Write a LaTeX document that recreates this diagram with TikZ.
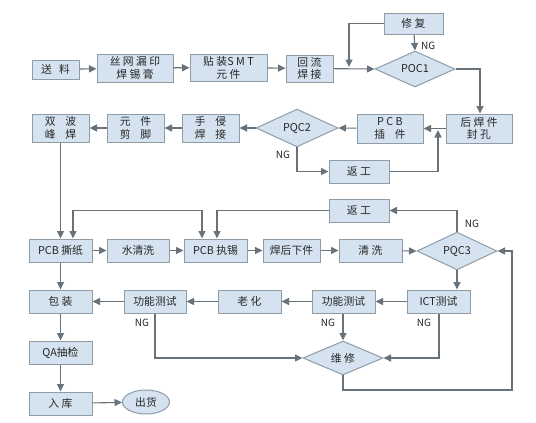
\documentclass[tikz,border=0pt]{standalone}
\usepackage{fontspec}
\setmainfont{Noto Sans CJK SC}
\usetikzlibrary{shapes.geometric,arrows.meta}
\definecolor{boxfill}{HTML}{D4E3EF}
\definecolor{boxline}{HTML}{8F9BA5}
\definecolor{conn}{HTML}{68727A}
\begin{document}
\begin{tikzpicture}[x=1pt,y=-1pt,
  box/.style={draw=boxline,fill=boxfill,line width=1pt,inner sep=0pt,align=center,
    font=\fontsize{10.8}{12.8}\selectfont,text=black!85},
  dia/.style={draw=boxline,fill=boxfill,line width=1pt,shape=diamond,inner sep=0pt,
    minimum width=80pt,minimum height=32pt,font=\fontsize{10.8}{12.8}\selectfont,text=black!85},
  ell/.style={draw=boxline,fill=boxfill,line width=1pt,shape=ellipse,inner sep=0pt,
    minimum width=47pt,minimum height=24pt,font=\fontsize{10.8}{12.8}\selectfont,text=black!85},
  tip/.tip={Triangle[length=7.5pt,width=7pt]},
  arr/.style={draw=conn,line width=1.1pt,-tip},
  arr2/.style={draw=conn,line width=1.1pt,tip-tip},
  nglab/.style={font=\fontsize{10}{11}\selectfont,text=black!85,inner sep=0pt}]
\useasboundingbox (0,0) rectangle (536,423);
% row 1
\node[box,minimum width=47pt,minimum height=19pt] (songliao) at (55.5,69.5) {送\ \ \ 料};
\node[box,minimum width=76pt,minimum height=28pt] (siwang) at (135,68) {丝 网 漏 印\\焊 锡 膏};
\node[box,minimum width=77pt,minimum height=27pt] (tiezhuang) at (228.5,67.5) {贴 装S M T\\元 件};
\node[box,minimum width=47pt,minimum height=27pt] (huiliu) at (309.5,68.5) {回 流\\焊 接};
\node[box,minimum width=59pt,minimum height=21pt] (xiufu) at (413.5,23.5) {修 复};
\node[dia] (poc1) at (415,69) {POC1};
% row 2
\node[box,minimum width=66pt,minimum height=29pt] (houhan) at (479,128.5) {后 焊 件\\封 孔};
\node[box,minimum width=66pt,minimum height=29pt] (pcbcj) at (390,128.5) {P C B\\插\ \ \ \ 件};
\node[dia,minimum width=82pt] (pqc2) at (297,128) {PQC2};
\node[box,minimum width=57pt,minimum height=28pt] (shouqin) at (210.5,128) {手\ \ \ \ 侵\\焊\ \ \ \ 接};
\node[box,minimum width=57pt,minimum height=28pt] (yuanjian) at (135.5,128) {元\ \ \ \ 件\\剪\ \ \ \ 脚};
\node[box,minimum width=57pt,minimum height=28pt] (shuangbo) at (60.5,128) {双\ \ \ \ 波\\峰\ \ \ \ 焊};
\node[box,minimum width=60pt,minimum height=23pt] (fangong1) at (359,171.5) {返 工};
\node[box,minimum width=60pt,minimum height=23pt] (fangong2) at (359,210.5) {返 工};
% row 3
\node[box,minimum width=63pt,minimum height=23pt] (pcbsz) at (60.5,250.5) {PCB 撕纸};
\node[box,minimum width=62pt,minimum height=23pt] (shuiqx) at (138,250.5) {水清洗};
\node[box,minimum width=63pt,minimum height=23pt] (pcbzx) at (215.5,250.5) {PCB 执锡};
\node[box,minimum width=57pt,minimum height=23pt] (hanhou) at (291.5,250.5) {焊后下件};
\node[box,minimum width=63pt,minimum height=23pt] (qingxi) at (370.5,250.5) {清 洗};
\node[dia] (pqc3) at (457,251) {PQC3};
% row 4
\node[box,minimum width=63pt,minimum height=23pt] (baozhuang) at (60.5,301.5) {包 装};
\node[box,minimum width=62pt,minimum height=23pt] (gn1) at (155,301.5) {功能测试};
\node[box,minimum width=63pt,minimum height=23pt] (laohua) at (249.5,301.5) {老 化};
\node[box,minimum width=63pt,minimum height=23pt] (gn2) at (343.5,301.5) {功能测试};
\node[box,minimum width=63pt,minimum height=23pt] (ict) at (438.5,301.5) {ICT测试};
\node[dia] (weixiu) at (343,358) {维 修};
\node[box,minimum width=63pt,minimum height=23pt] (qa) at (60.5,352.5) {QA抽检};
\node[box,minimum width=63pt,minimum height=23pt] (ruku) at (60.5,403.5) {入 库};
\node[ell] (chuhuo) at (146,402) {出货};
% coordinates
\coordinate (c1) at (349,23.5);
\coordinate (c1e) at (349,67);
\coordinate (c2) at (480,69);
\coordinate (c3) at (297,171.5);
\coordinate (c4) at (438,171.5);
\coordinate (c4e) at (438,130);
\coordinate (b1) at (73,210.5);
\coordinate (b2) at (202,210.5);
\coordinate (c5) at (457,210.5);
\coordinate (c6) at (217,210.5);
\coordinate (c7) at (439,358);
\coordinate (c8) at (155,358);
\coordinate (c9) at (343,390);
\coordinate (c10) at (512,390);
\coordinate (c11) at (512,251);
% connectors row 1
\draw[arr] (songliao) -- (siwang);
\draw[arr] (siwang) -- (tiezhuang);
\draw[arr] (tiezhuang) -- (huiliu);
\draw[arr] (huiliu) -- (poc1.west);
\draw[arr] (xiufu) -- (poc1.north);
\node[nglab,anchor=west] (ng1) at (421,46) {NG};
\draw[arr] (xiufu.west) -- (c1) -- (c1e);
\draw[arr] (poc1.east) -- (c2) -- (c2 |- houhan.north);
% row 2
\draw[arr] (houhan) -- (pcbcj);
\draw[arr] (pcbcj) -- (pqc2.east);
\draw[arr] (pqc2.west) -- (shouqin);
\draw[arr] (shouqin) -- (yuanjian);
\draw[arr] (yuanjian) -- (shuangbo);
\draw[arr] (pqc2.south) -- (c3) -- (fangong1.west);
\node[nglab] (ng2) at (283,155) {NG};
\draw[arr] (fangong1.east) -- (c4) -- (c4e);
\draw[arr] (shuangbo.south) -- (pcbsz.north);
\draw[arr2] (b1 |- pcbsz.north) -- (b1) -- (b2) -- (b2 |- pcbzx.north);
\draw[arr] (pqc3.north) -- (c5) -- (fangong2.east);
\node[nglab] (ng3) at (472,224) {NG};
\draw[arr] (fangong2.west) -- (c6) -- (c6 |- pcbzx.north);
% row 3
\draw[arr] (pcbsz) -- (shuiqx);
\draw[arr] (shuiqx) -- (pcbzx);
\draw[arr] (pcbzx) -- (hanhou);
\draw[arr] (hanhou) -- (qingxi);
\draw[arr] (qingxi) -- (pqc3.west);
\draw[arr] (pqc3.south) -- (pqc3.south |- ict.north);
% row 4
\draw[arr] (ict) -- (gn2);
\draw[arr] (gn2) -- (laohua);
\draw[arr] (laohua) -- (gn1);
\draw[arr] (gn1) -- (baozhuang);
\draw[arr] (gn2.south -| weixiu.north) -- (weixiu.north);
\node[nglab] (ng4) at (328,323) {NG};
\draw[arr] (c7 |- ict.south) -- (c7) -- (weixiu.east);
\node[nglab] (ng5) at (424,323) {NG};
\draw[arr] (gn1.south) -- (c8) -- (weixiu.west);
\node[nglab] (ng6) at (142,323) {NG};
\draw[arr] (weixiu.south) -- (c9) -- (c10) -- (c11) -- (pqc3.east);
\draw[arr] (pcbsz.south) -- (baozhuang.north);
\draw[arr] (baozhuang) -- (qa);
\draw[arr] (qa) -- (ruku);
\draw[arr] (ruku) -- (chuhuo);
\end{tikzpicture}
\end{document}
